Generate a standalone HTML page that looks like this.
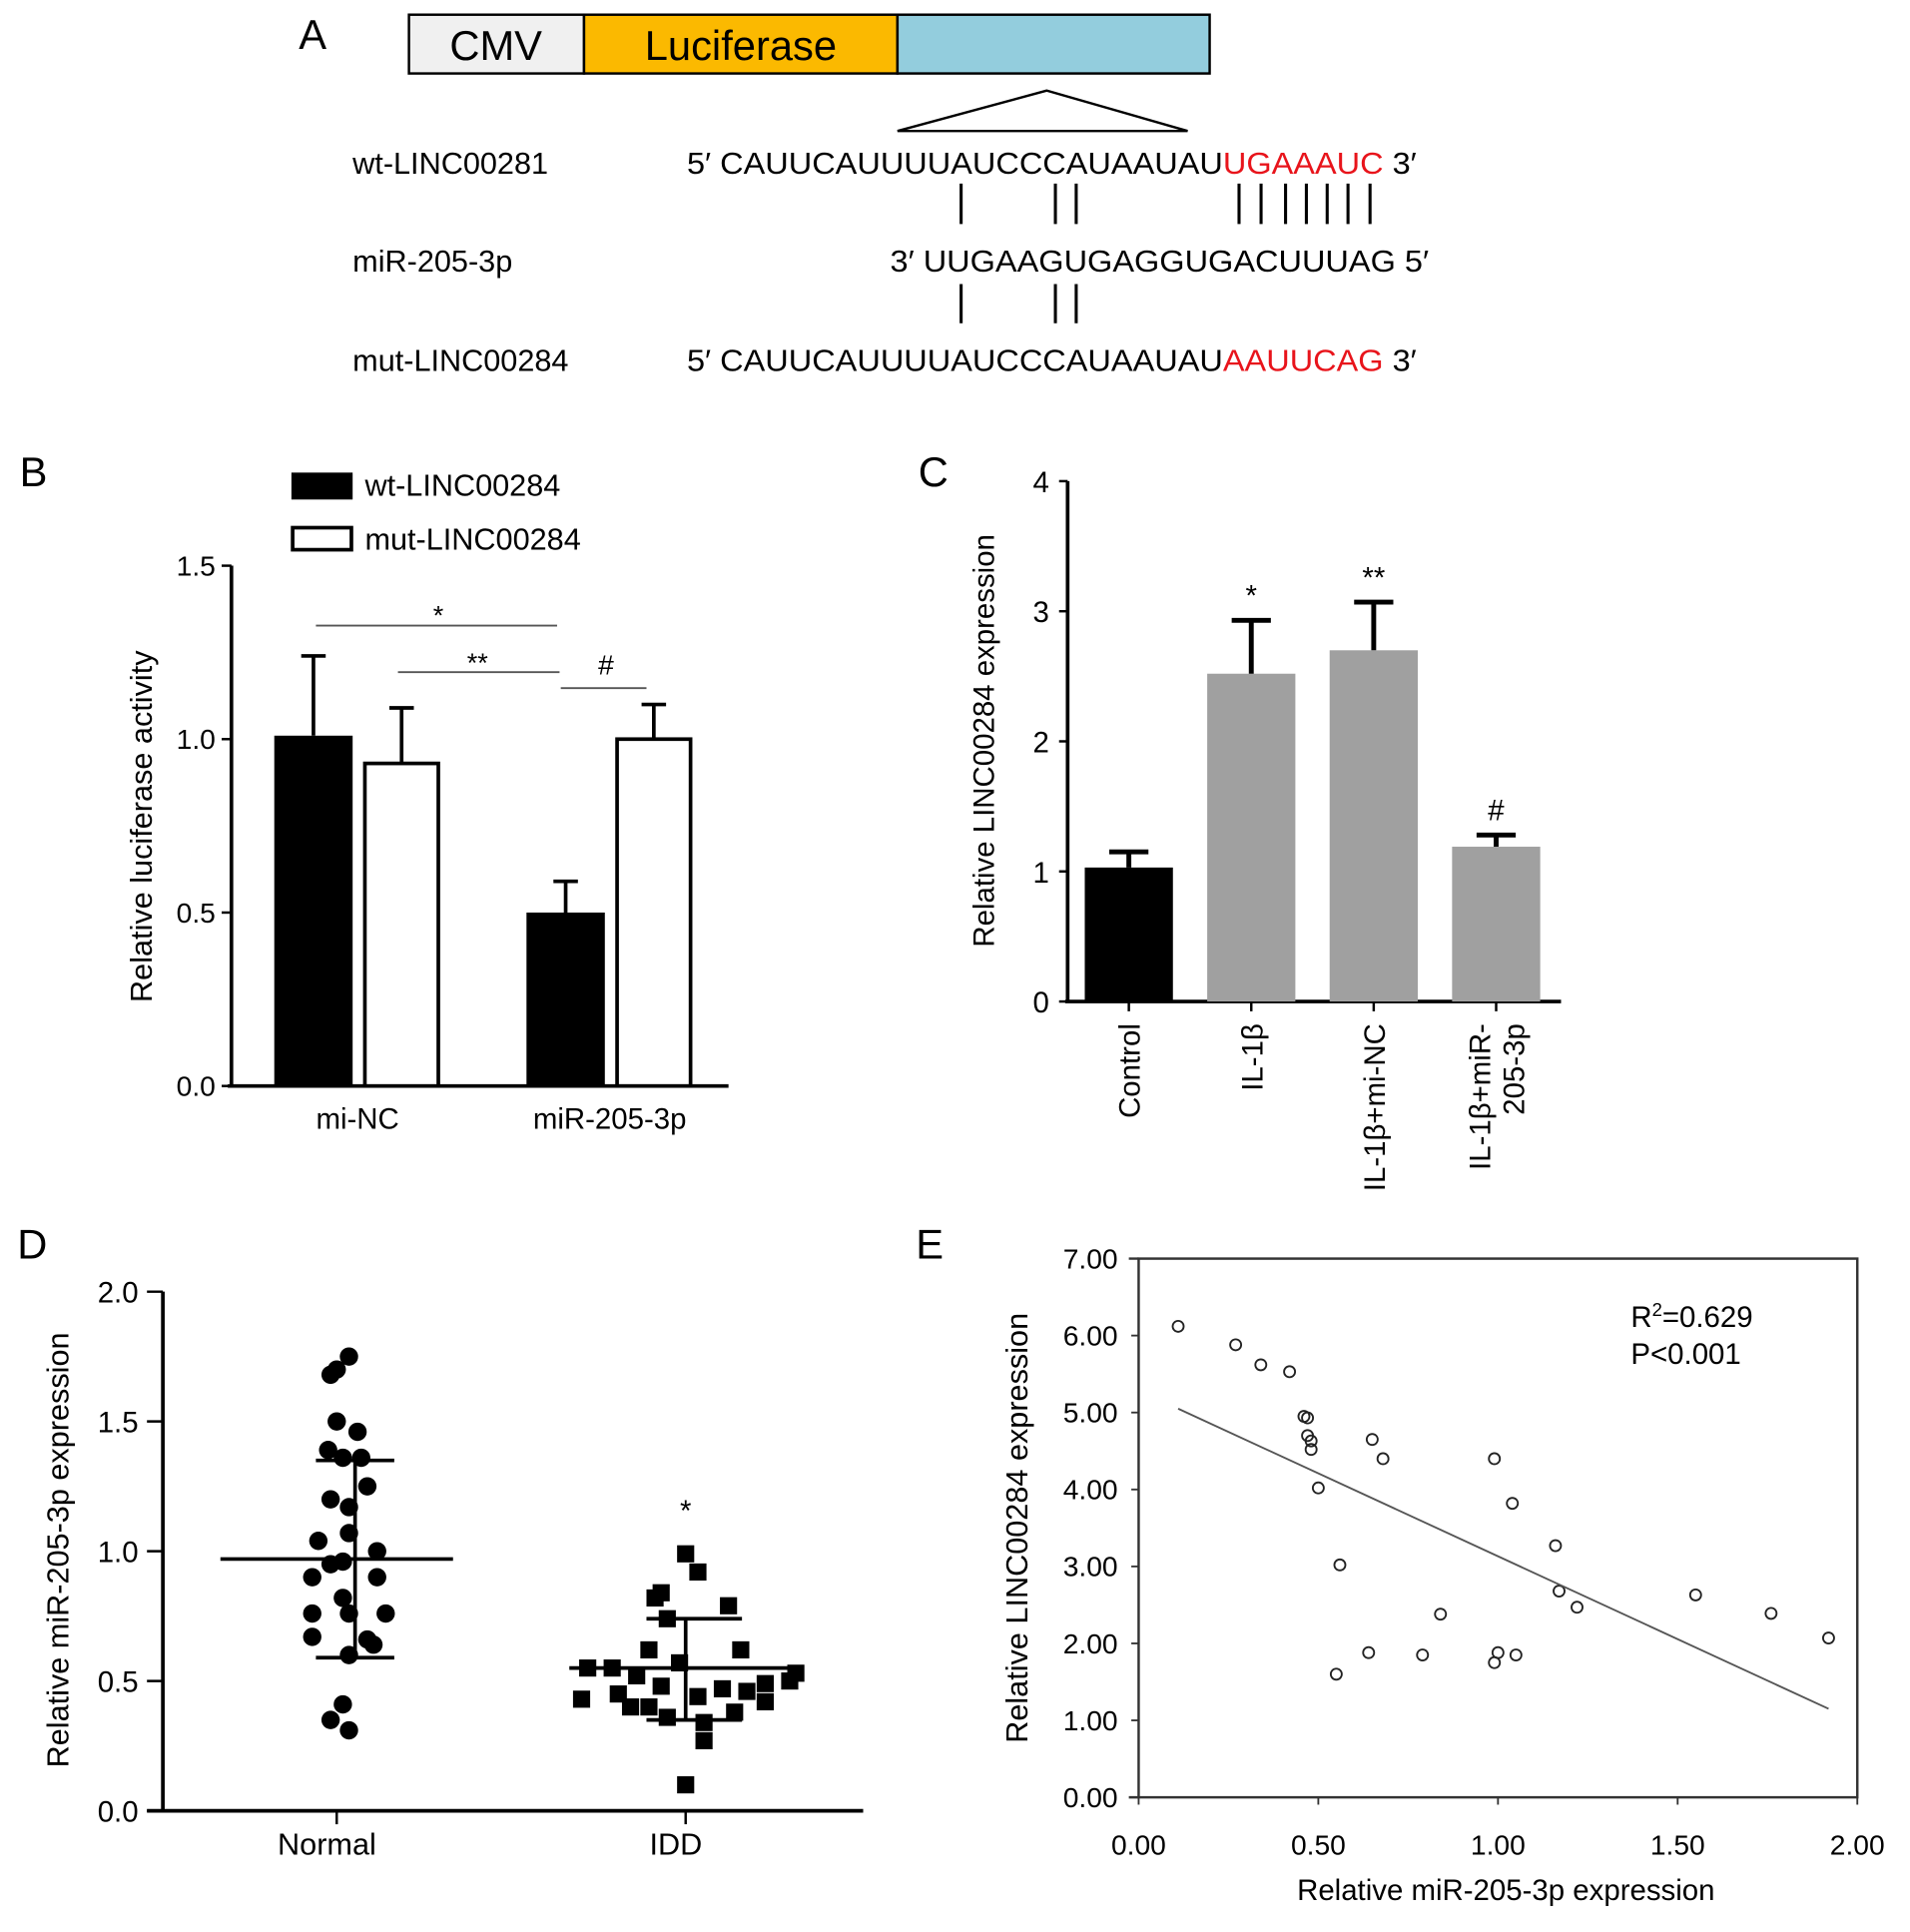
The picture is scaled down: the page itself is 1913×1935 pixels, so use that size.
<!DOCTYPE html>
<html><head><meta charset="utf-8"><style>
html,body{margin:0;padding:0;background:#fff;}
svg{display:block;font-family:"Liberation Sans",Arial,sans-serif;}
</style></head><body>
<svg id="fig" width="1913" height="1935" viewBox="0 0 1560 1578">
<g id="pa">
<text x="244" y="40" font-size="34">A</text>
<rect x="334" y="12" width="143" height="48" fill="#f0f0f0" stroke="#000" stroke-width="2"/>
<rect x="477" y="12" width="256" height="48" fill="#fbb900" stroke="#000" stroke-width="2"/>
<rect x="733" y="12" width="255" height="48" fill="#93cddd" stroke="#000" stroke-width="2"/>
<text x="405" y="49" font-size="34" text-anchor="middle">CMV</text>
<text x="605" y="49" font-size="34" text-anchor="middle">Luciferase</text>
<polygon points="855,74 733,107 970,107" fill="none" stroke="#000" stroke-width="2"/>
<g font-size="25">
<text x="288" y="142">wt-LINC00281</text>
<text x="561" y="142" textLength="596" lengthAdjust="spacingAndGlyphs">5′ CAUUCAUUUUAUCCCAUAAUAU<tspan fill="#e8141b">UGAAAUC</tspan> 3′</text>
<text x="288" y="222">miR-205-3p</text>
<text x="727" y="222" textLength="440" lengthAdjust="spacingAndGlyphs">3′ UUGAAGUGAGGUGACUUUAG 5′</text>
<text x="288" y="303">mut-LINC00284</text>
<text x="561" y="303" textLength="596" lengthAdjust="spacingAndGlyphs">5′ CAUUCAUUUUAUCCCAUAAUAU<tspan fill="#e8141b">AAUUCAG</tspan> 3′</text>
</g>
<g stroke="#000" stroke-width="2.5">
<path d="M785 150V183M862 150V183M879 150V183M1012 150V183M1030 150V183M1050 150V183M1067 150V183M1084 150V183M1101 150V183M1119 150V183"/>
<path d="M785 232V264M862 232V264M879 232V264"/>
</g>
</g>
<g id="pb"></g>
<g id="pc"></g>
<g id="pd"></g>
<g id="pe"></g>
</svg>
<script>
// Panel B data
const bGroups = ['mi-NC', 'miR-205-3p'];
const bWt = [1.01, 0.50];
const bWtErr = [0.23, 0.09];
const bMut = [0.93, 1.00];
const bMutErr = [0.16, 0.10];
const bTicks = [0.0, 0.5, 1.0, 1.5];
// Panel C data
const cCats = ['Control', 'IL-1β', 'IL-1β+mi-NC', 'IL-1β+miR-205-3p'];
const cVals = [1.03, 2.52, 2.70, 1.19];
const cErr = [0.12, 0.41, 0.37, 0.09];
const cTicks = [0, 1, 2, 3, 4];
// Panel D data
const dNormal = [1.75,1.70,1.68,1.50,1.46,1.39,1.36,1.36,1.25,1.20,1.17,1.04,1.07,1.00,0.95,0.90,0.90,0.96,0.82,0.76,0.76,0.76,0.67,0.66,0.64,0.60,0.41,0.35,0.31];
const dNormalJit = [5,-5,-10,-5,12,-12,0,15,20,-10,5,-20,5,28,-10,-25,28,0,0,-25,5,35,-25,20,25,5,0,-10,5];
const dIdd = [0.99,0.92,0.84,0.82,0.79,0.74,0.62,0.62,0.57,0.55,0.55,0.52,0.50,0.49,0.48,0.47,0.46,0.45,0.44,0.43,0.42,0.40,0.40,0.38,0.36,0.34,0.27,0.10,0.53];
const dIddJit = [0,10,-20,-25,35,-15,-30,45,-5,-80,-60,-40,85,65,-20,30,50,-55,10,-85,65,-30,-45,40,-15,15,15,0,90];
const dStats = {normal:[0.97,0.59,1.35], idd:[0.55,0.35,0.74]};
const dTicks = [0.0, 0.5, 1.0, 1.5, 2.0];
// Panel E data
const eX = [0.11,0.27,0.34,0.42,0.46,0.47,0.47,0.48,0.48,0.50,0.55,0.56,0.64,0.65,0.68,0.79,0.84,0.99,1.00,0.99,1.04,1.05,1.16,1.17,1.22,1.55,1.76,1.92];
const eY = [6.12,5.88,5.62,5.53,4.95,4.93,4.70,4.63,4.52,4.02,1.60,3.02,1.88,4.65,4.40,1.85,2.38,1.75,1.88,4.40,3.82,1.85,3.27,2.68,2.47,2.63,2.39,2.07];
const eFit = [0.11, 5.05, 1.92, 1.15];
const eXTicks = [0,0.5,1,1.5,2];
const eYTicks = [0,1,2,3,4,5,6,7];

const NS='http://www.w3.org/2000/svg';
function mk(parent, tag, attrs, txt){const e=document.createElementNS(NS,tag);for(const k in attrs)e.setAttribute(k,attrs[k]);if(txt!==undefined)e.textContent=txt;parent.appendChild(e);return e;}

// ---- B ----
(function(){
const g=document.getElementById('pb');
const y=v=>887-v*283.3;
let t=mk(g,'text',{x:16,y:397,'font-size':34});t.textContent='B';


mk(g,'path',{d:'M189 462V888M186 887H595',stroke:'#000','stroke-width':3,fill:'none'});
bTicks.forEach(v=>{mk(g,'path',{d:`M181 ${y(v)}H189`,stroke:'#000','stroke-width':2});
const tt=mk(g,'text',{x:176,y:y(v)+8,'font-size':23,'text-anchor':'end'},v.toFixed(1));

});
const gx=[256,462];
bGroups.forEach((name,i)=>{
 const cx=gx[i];
 const wb=mk(g,'rect',{x:cx-32,y:y(bWt[i]),width:64,height:887-y(bWt[i]),fill:'#000'});
 
 
 mk(g,'path',{d:`M${cx} ${y(bWt[i])}V${y(bWt[i]+bWtErr[i])}M${cx-10} ${y(bWt[i]+bWtErr[i])}H${cx+10}`,stroke:'#000','stroke-width':3});
 const mx=cx+72;
 const mb=mk(g,'rect',{x:mx-30,y:y(bMut[i]),width:60,height:887-y(bMut[i]),fill:'#fff',stroke:'#000','stroke-width':3});
 
 
 mk(g,'path',{d:`M${mx} ${y(bMut[i])}V${y(bMut[i]+bMutErr[i])}M${mx-10} ${y(bMut[i]+bMutErr[i])}H${mx+10}`,stroke:'#000','stroke-width':3});
 const xl=mk(g,'text',{x:cx+36,y:922,'font-size':24,'text-anchor':'middle'},name);
 
 
});
const yl=mk(g,'text',{x:0,y:0,'font-size':25,'text-anchor':'middle',transform:'translate(124 675) rotate(-90)'},'Relative luciferase activity');


mk(g,'rect',{x:238,y:386,width:50,height:22,fill:'#000'});
mk(g,'rect',{x:239,y:431,width:48,height:18,fill:'#fff',stroke:'#000','stroke-width':3});
const l1=mk(g,'text',{x:298,y:405,'font-size':25},'wt-LINC00284');


const l2=mk(g,'text',{x:298,y:449,'font-size':25},'mut-LINC00284');


mk(g,'path',{d:'M258 511H455M325 549H457M458 562H528',stroke:'#555','stroke-width':1.5});
mk(g,'text',{x:358,y:510,'font-size':22,'text-anchor':'middle'},'*');
mk(g,'text',{x:390,y:549,'font-size':22,'text-anchor':'middle'},'**');
mk(g,'text',{x:495,y:551,'font-size':23,'text-anchor':'middle'},'#');
})();

// ---- C ----
(function(){
const g=document.getElementById('pc');
const y=v=>818-v*106.25;
let t=mk(g,'text',{x:750,y:397,'font-size':34},'C');


mk(g,'path',{d:'M872 393V819M870 818H1275',stroke:'#000','stroke-width':3,fill:'none'});
cTicks.forEach(v=>{mk(g,'path',{d:`M865 ${y(v)}H872`,stroke:'#000','stroke-width':2});
const tt=mk(g,'text',{x:857,y:y(v)+9,'font-size':24,'text-anchor':'end'},String(v));

});
const sig=['','*','**','#'];
cCats.forEach((c,i)=>{
 const cx=922+i*100;
 const b=mk(g,'rect',{x:cx-36,y:y(cVals[i]),width:72,height:818-y(cVals[i]),fill:i===0?'#000':'#a0a0a0'});
 
 
 const top=y(cVals[i]+cErr[i]);
 mk(g,'path',{d:`M${cx} ${y(cVals[i])}V${top}M${cx-16} ${top}H${cx+16}`,stroke:'#000','stroke-width':4});
 mk(g,'path',{d:`M${cx} 818V826`,stroke:'#000','stroke-width':2});
 if(sig[i]){mk(g,'text',{x:cx,y:top-12,'font-size':24,'text-anchor':'middle'},sig[i]);}
 const lab=mk(g,'text',{x:0,y:0,'font-size':24,'text-anchor':'end',transform:`translate(${cx+9} 836) rotate(-90)`});
 
 
 if(i===3){mk(lab,'tspan',{x:0,dx:0,dy:-14},'IL-1β+miR-');mk(lab,'tspan',{x:0,dy:28},'205-3p');}
 else lab.textContent=c;
});
const yl=mk(g,'text',{x:0,y:0,'font-size':24,'text-anchor':'middle',transform:'translate(812 605) rotate(-90)'},'Relative LINC00284 expression');


})();

// ---- D ----
(function(){
const g=document.getElementById('pd');
const y=v=>1479-v*212;
let t=mk(g,'text',{x:14,y:1028,'font-size':34},'D');


mk(g,'path',{d:'M133 1055V1480M120 1479H705',stroke:'#000','stroke-width':3,fill:'none'});
dTicks.forEach(v=>{mk(g,'path',{d:`M120 ${y(v)}H133`,stroke:'#000','stroke-width':2});
const tt=mk(g,'text',{x:113,y:y(v)+9,'font-size':24,'text-anchor':'end'},v.toFixed(1));

});
[[275,'Normal'],[560,'IDD']].forEach(([x,l])=>{mk(g,'path',{d:`M${x} 1479V1490`,stroke:'#000','stroke-width':2});
const tt=mk(g,'text',{x:x-8,y:1515,'font-size':25,'text-anchor':'middle'},l);

});
dNormal.forEach((v,i)=>{const c=mk(g,'circle',{cx:280+dNormalJit[i],cy:y(v),r:7.5,fill:'#000'});

});
dIdd.forEach((v,i)=>{const r=mk(g,'rect',{x:560+dIddJit[i]-7,y:y(v)-7,width:14,height:14,fill:'#000'});

});
const s=dStats;
mk(g,'path',{d:`M180 ${y(s.normal[0])}H370M258 ${y(s.normal[1])}H322M258 ${y(s.normal[2])}H322M290 ${y(s.normal[1])}V${y(s.normal[2])}`,stroke:'#000','stroke-width':3});
mk(g,'path',{d:`M465 ${y(s.idd[0])}H655M528 ${y(s.idd[1])}H606M528 ${y(s.idd[2])}H606M560 ${y(s.idd[1])}V${y(s.idd[2])}`,stroke:'#000','stroke-width':3});
mk(g,'text',{x:560,y:1242,'font-size':24,'text-anchor':'middle'},'*');
const yl=mk(g,'text',{x:0,y:0,'font-size':25,'text-anchor':'middle',transform:'translate(56 1266) rotate(-90)'},'Relative miR-205-3p expression');


})();

// ---- E ----
(function(){
const g=document.getElementById('pe');
const x=v=>930+v*293.5, y=v=>1468-v*62.86;
let t=mk(g,'text',{x:748,y:1028,'font-size':34},'E');


mk(g,'rect',{x:930,y:1028,width:587,height:440,fill:'none',stroke:'#333','stroke-width':2});
mk(g,'path',{d:'M922 1028H930M922 1468H930',stroke:'#333','stroke-width':2});
eYTicks.forEach(v=>{mk(g,'path',{d:`M924 ${y(v)}H930`,stroke:'#333','stroke-width':1.5});
const tt=mk(g,'text',{x:913,y:y(v)+8,'font-size':23,'text-anchor':'end'},v.toFixed(2));

});
eXTicks.forEach(v=>{mk(g,'path',{d:`M${x(v)} 1468V1474`,stroke:'#333','stroke-width':1.5});
const tt=mk(g,'text',{x:x(v),y:1515,'font-size':23,'text-anchor':'middle'},v.toFixed(2));

});
eX.forEach((v,i)=>{const c=mk(g,'circle',{cx:x(v),cy:y(eY[i]),r:4.5,fill:'none',stroke:'#222','stroke-width':1.5});

});
const fl=mk(g,'line',{x1:x(eFit[0]),y1:y(eFit[1]),x2:x(eFit[2]),y2:y(eFit[3]),stroke:'#555','stroke-width':1.5});


const r=mk(g,'text',{x:1332,y:1084,'font-size':24});


r.innerHTML='R<tspan font-size="15" dy="-9">2</tspan><tspan dy="9">=0.629</tspan>';
mk(g,'text',{x:1332,y:1114,'font-size':24},'P<0.001');
const xl=mk(g,'text',{x:1230,y:1552,'font-size':24,'text-anchor':'middle'},'Relative miR-205-3p expression');


const yl=mk(g,'text',{x:0,y:0,'font-size':25,'text-anchor':'middle',transform:'translate(839 1248) rotate(-90)'},'Relative LINC00284 expression');


})();
</script>
</body></html>
